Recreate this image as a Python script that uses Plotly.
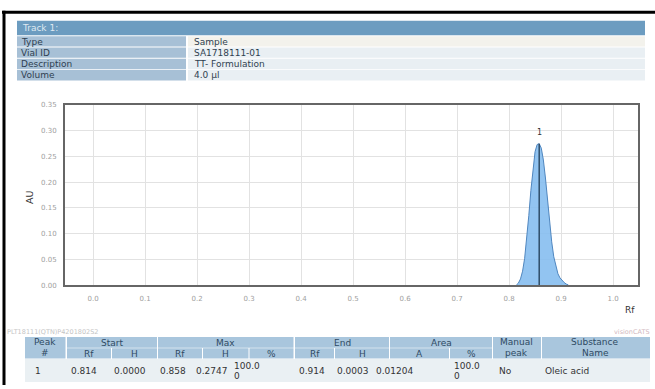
import plotly.graph_objects as go

W, H = 655, 389

# ---- densitogram of track 1 (Rf vs absorbance) ----
rf = [0.814, 0.818, 0.822, 0.826, 0.830, 0.834, 0.838, 0.842, 0.846, 0.850,
      0.854, 0.858, 0.862, 0.866, 0.870, 0.874, 0.878, 0.882, 0.886, 0.890,
      0.894, 0.898, 0.902, 0.906, 0.910, 0.914]
au = [0.0000, 0.004, 0.012, 0.027, 0.052, 0.089, 0.135, 0.184, 0.228, 0.259,
      0.273, 0.2747, 0.266, 0.243, 0.208, 0.166, 0.122, 0.084, 0.055, 0.035,
      0.022, 0.014, 0.009, 0.005, 0.002, 0.0003]

x_ticks = [0.0, 0.1, 0.2, 0.3, 0.4, 0.5, 0.6, 0.7, 0.8, 0.9, 1.0]
y_ticks = [0.00, 0.05, 0.10, 0.15, 0.20, 0.25, 0.30, 0.35]

# ---- track information ----
track_title = "Track 1:"
info_labels = ["Type", "Vial ID", "Description", "Volume"]
info_values = ["Sample", "SA1718111-01", "TT- Formulation", "4.0 µl"]

# ---- peak table ----
peak_no = ["1"]
start_rf = [0.814]
start_h = [0.0000]
max_rf = [0.858]
max_h = [0.2747]
max_pct = [100.00]
end_rf = [0.914]
end_h = [0.0003]
area_a = [0.01204]
area_pct = [100.00]
manual_peak = ["No"]
substance = ["Oleic acid"]

plate_id = "PLT18111(QTN)P4201802S2"
software = "visionCATS"

FONT = "DejaVu Sans"


def px(x):
    return x / W


def py(y):
    return 1 - y / H


shapes = []
annotations = []


def rect(x0, y0, x1, y1, color):
    shapes.append(dict(type="rect", xref="paper", yref="paper",
                       x0=px(x0), x1=px(x1), y0=py(y1), y1=py(y0),
                       fillcolor=color, line=dict(width=0), layer="below"))


def text(x, y, s, size=9, color="#2c3d4f", anchor="left"):
    annotations.append(dict(xref="paper", yref="paper", x=px(x), y=py(y),
                            text=s, showarrow=False, xanchor=anchor,
                            yanchor="middle",
                            font=dict(family=FONT, size=size, color=color)))


# outer frame (top and left edges)
shapes.append(dict(type="line", xref="paper", yref="paper", x0=px(2), x1=px(655),
                   y0=py(8.5), y1=py(8.5), line=dict(color="#000", width=3)))
shapes.append(dict(type="line", xref="paper", yref="paper", x0=px(4), x1=px(4),
                   y0=py(7), y1=py(389), line=dict(color="#000", width=3)))

# track info block
rect(17, 17, 645, 32, "#6c9cc0")
text(20, 24.5, track_title, size=9, color="#dfe9f1")
row_tops = [33, 44.5, 56, 67.5]
for i, (lab, val) in enumerate(zip(info_labels, info_values)):
    t = row_tops[i]
    rect(17, t, 186, t + 10.5, "#a7c0d6")
    rect(188, t, 645, t + 10.5, "#f3f2ec" if i == 0 else "#e9eff3")
    text(19, t + 5.5, lab, size=9, color="#2f3f50")
    text(192, t + 5.5, val, size=9, color="#2f3f50")

# peak label above apex
annotations.append(dict(x=max_rf[0], y=max_h[0], xref="x", yref="y", text=peak_no[0],
                        showarrow=False, yanchor="bottom", yshift=5,
                        font=dict(family=FONT, size=8, color="#333")))

# axis titles
annotations.append(dict(xref="paper", yref="paper", x=px(30), y=py(198), text="AU",
                        showarrow=False, textangle=-90, xanchor="center",
                        yanchor="middle",
                        font=dict(family=FONT, size=9.5, color="#333")))
text(630, 312, "Rf", size=9, color="#333", anchor="center")

# small footer labels above the peak table
text(5, 335, plate_id, size=6.5, color="#c4c4c4")
text(652, 335, software, size=6.5, color="#d2b9c0", anchor="right")

# peak table header
HDR = "#a9c6dd"
HTXT = "#2e4a63"
HS = 9
r1, r2, r3, r4 = 340, 351.5, 362.5, 386
# merged cells
rect(25, r1, 65.5, r3 - 0.5, HDR)
rect(493, r1, 541, r3 - 0.5, HDR)
rect(542, r1, 650, r3 - 0.5, HDR)
groups = [(67, 157, "Start"), (158, 293.5, "Max"), (295, 389, "End"), (390, 492, "Area")]
for x0, x1, lab in groups:
    rect(x0, r1, x1, r2 - 0.5, HDR)
    text((x0 + x1) / 2, (r1 + r2) / 2, lab, size=HS, color=HTXT, anchor="center")
subs = [(67, 111, "Rf"), (112, 157, "H"), (158, 202, "Rf"), (203, 248.5, "H"),
        (249.5, 293.5, "%"), (295, 334, "Rf"), (335, 389, "H"), (390, 449, "A"),
        (450, 492, "%")]
for x0, x1, lab in subs:
    rect(x0, r2, x1, r3 - 0.5, HDR)
    text((x0 + x1) / 2, (r2 + r3) / 2, lab, size=HS, color=HTXT, anchor="center")
text(45, 345.5, "Peak", size=HS, color=HTXT, anchor="center")
text(45, 356.5, "#", size=HS, color=HTXT, anchor="center")
text(516, 345.5, "Manual", size=HS, color=HTXT, anchor="center")
text(516, 356.5, "peak", size=HS, color=HTXT, anchor="center")
text(595, 345.5, "Substance", size=HS, color=HTXT, anchor="center")
text(595, 356.5, "Name", size=HS, color=HTXT, anchor="center")

# peak table data row
rect(25, r3, 650, r4, "#eaf0f3")
ym = (r3 + r4) / 2
DTXT = "#333333"
for i in range(len(peak_no)):
    text(33, ym, peak_no[i], size=9, color=DTXT)
    text(69, ym, f"{start_rf[i]:.3f}", size=9, color=DTXT)
    text(112, ym, f"{start_h[i]:.4f}", size=9, color=DTXT)
    text(158, ym, f"{max_rf[i]:.3f}", size=9, color=DTXT)
    text(194, ym, f"{max_h[i]:.4f}", size=9, color=DTXT)
    p = f"{max_pct[i]:.2f}"
    text(232, ym - 5, p[:-1], size=9, color=DTXT)
    text(232, ym + 6, p[-1], size=9, color=DTXT)
    text(297, ym, f"{end_rf[i]:.3f}", size=9, color=DTXT)
    text(335, ym, f"{end_h[i]:.4f}", size=9, color=DTXT)
    text(374, ym, f"{area_a[i]:.5f}", size=9, color=DTXT)
    p = f"{area_pct[i]:.2f}"
    text(452, ym - 5, p[:-1], size=9, color=DTXT)
    text(452, ym + 6, p[-1], size=9, color=DTXT)
    text(497, ym, manual_peak[i], size=9, color=DTXT)
    text(543, ym, substance[i], size=9, color=DTXT)

fig = go.Figure()
fig.add_trace(go.Scatter(x=rf, y=au, mode="lines", fill="tozeroy",
                         fillcolor="rgba(134,190,240,0.9)",
                         line=dict(color="#4f86bf", width=1), hoverinfo="skip"))
fig.add_trace(go.Scatter(x=[max_rf[0], max_rf[0]], y=[0, max_h[0]], mode="lines",
                         line=dict(color="#2f4d68", width=1.5), hoverinfo="skip"))

fig.update_layout(
    width=W, height=H,
    margin=dict(l=0, r=0, t=0, b=0),
    paper_bgcolor="white", plot_bgcolor="white",
    showlegend=False,
    shapes=shapes, annotations=annotations,
    font=dict(family=FONT),
    xaxis=dict(domain=[px(65), px(638)], range=[-0.054, 1.048],
               tickvals=x_ticks, ticktext=[f"{v:.1f}" for v in x_ticks],
               showgrid=True, gridcolor="#e2e2e2", gridwidth=1, zeroline=False,
               showline=True, linecolor="#666", linewidth=2, mirror=True,
               ticks="", ticklabelstandoff=6,
               tickfont=dict(family=FONT, size=7, color="#a0a0a0")),
    yaxis=dict(domain=[py(287), py(103)], range=[0, 0.35],
               tickvals=y_ticks, ticktext=[f"{v:.2f}" for v in y_ticks],
               showgrid=True, gridcolor="#e2e2e2", gridwidth=1, zeroline=False,
               showline=True, linecolor="#666", linewidth=2, mirror=True,
               ticks="", ticklabelstandoff=5,
               tickfont=dict(family=FONT, size=7, color="#a0a0a0")),
)

fig.write_html("out.html")
